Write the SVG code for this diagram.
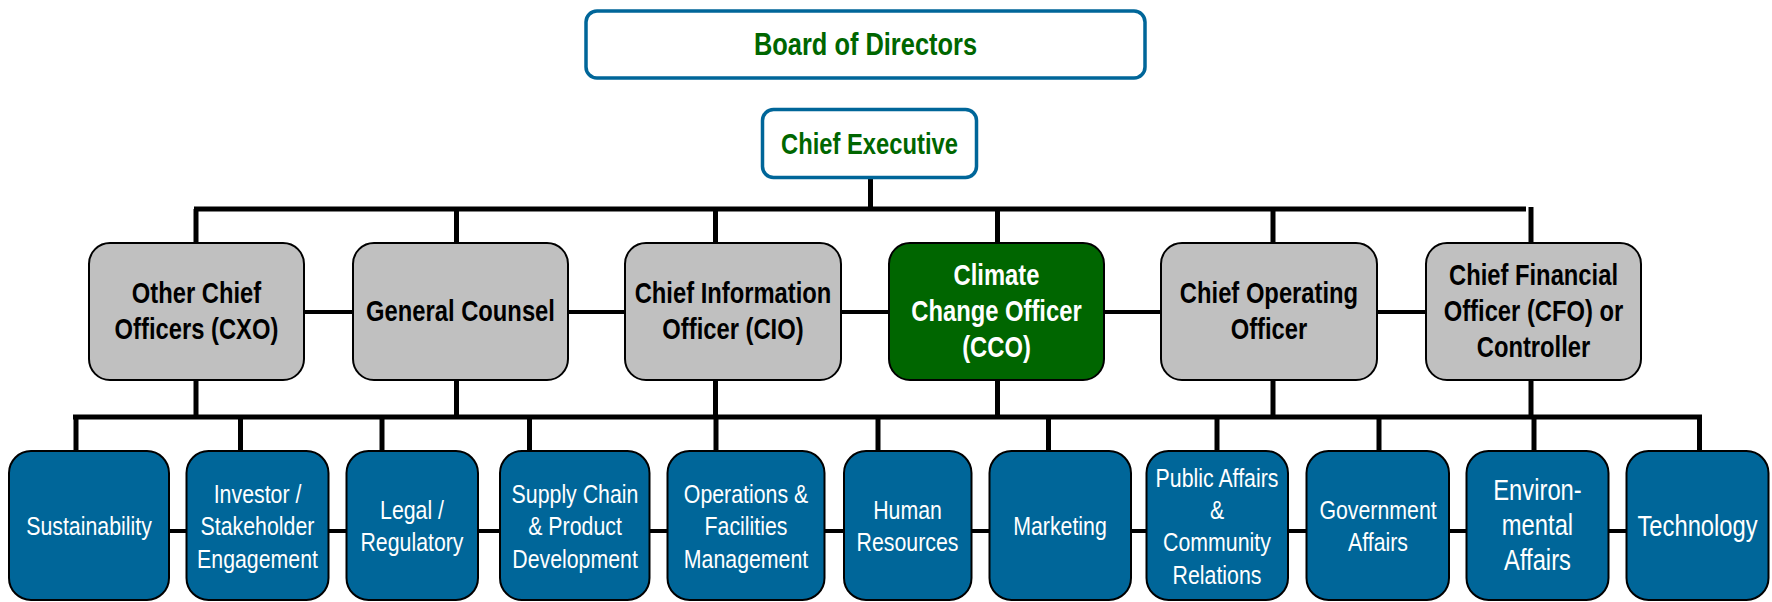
<svg xmlns="http://www.w3.org/2000/svg" width="1772" height="602" viewBox="0 0 1772 602">
  <style>
    .top { fill: #ffffff; stroke: #006699; stroke-width: 3.5; }
    .exec { fill: #C0C0C0; stroke: #000000; stroke-width: 2; }
    .cco { fill: #006600; stroke: #000000; stroke-width: 2; }
    .dept { fill: #006699; stroke: #000000; stroke-width: 2; }
    .bar { stroke: #000000; stroke-width: 5; fill: none; }
    .link { stroke: #000000; stroke-width: 4; fill: none; }
    /* narrow lettering: Liberation Sans squeezed about each label's own centre */
    text { font-family: "Liberation Sans", Arial, sans-serif; text-anchor: middle;
           transform-box: fill-box; transform-origin: center; transform: scaleX(0.82); }
    .t-top { fill: #006600; font-weight: bold; }
    .t-exec { fill: #000000; font-weight: bold; font-size: 29px; }
    .t-cco { fill: #ffffff; font-weight: bold; font-size: 29px; }
    .t-dept { fill: #ffffff; font-size: 26px; }
    .t-dept-lg { fill: #ffffff; font-size: 29px; }
  </style>

  <!-- connectors -->
  <g id="connectors">
    <!-- chief executive down to officer bar -->
    <line class="bar" x1="870.5" y1="179" x2="870.5" y2="209"/>
    <line class="bar" x1="194" y1="209" x2="1526" y2="209"/>
    <!-- drops to officers -->
    <line class="bar" x1="196" y1="209" x2="196" y2="243"/>
    <line class="bar" x1="456.5" y1="209" x2="456.5" y2="243"/>
    <line class="bar" x1="715.5" y1="209" x2="715.5" y2="243"/>
    <line class="bar" x1="997.5" y1="209" x2="997.5" y2="243"/>
    <line class="bar" x1="1273" y1="209" x2="1273" y2="243"/>
    <line class="bar" x1="1531" y1="207" x2="1531" y2="243"/>
    <!-- side links between officers -->
    <line class="link" x1="200" y1="312" x2="1530" y2="312"/>
    <!-- officers down to department bar -->
    <line class="bar" x1="196" y1="380" x2="196" y2="417"/>
    <line class="bar" x1="456.5" y1="380" x2="456.5" y2="417"/>
    <line class="bar" x1="715.5" y1="380" x2="715.5" y2="417"/>
    <line class="bar" x1="997.5" y1="380" x2="997.5" y2="417"/>
    <line class="bar" x1="1273" y1="380" x2="1273" y2="417"/>
    <line class="bar" x1="1531" y1="380" x2="1531" y2="417"/>
    <line class="bar" x1="73" y1="417" x2="1702" y2="417"/>
    <!-- drops to departments -->
    <line class="bar" x1="76" y1="417" x2="76" y2="452"/>
    <line class="bar" x1="240.5" y1="417" x2="240.5" y2="452"/>
    <line class="bar" x1="382" y1="417" x2="382" y2="452"/>
    <line class="bar" x1="529.5" y1="417" x2="529.5" y2="452"/>
    <line class="bar" x1="716" y1="417" x2="716" y2="452"/>
    <line class="bar" x1="878" y1="417" x2="878" y2="452"/>
    <line class="bar" x1="1048.5" y1="417" x2="1048.5" y2="452"/>
    <line class="bar" x1="1217" y1="417" x2="1217" y2="452"/>
    <line class="bar" x1="1379" y1="417" x2="1379" y2="452"/>
    <line class="bar" x1="1534" y1="417" x2="1534" y2="452"/>
    <line class="bar" x1="1699.5" y1="417" x2="1699.5" y2="452"/>
    <!-- side links between departments -->
    <line class="link" x1="80" y1="531" x2="1700" y2="531"/>
  </g>

  <!-- governance -->
  <g id="board">
    <rect class="top" x="586" y="11" width="559" height="67" rx="11"/>
    <text class="t-top" x="865.5" y="55" font-size="31">Board of Directors</text>
  </g>
  <g id="chief-executive">
    <rect class="top" x="762.5" y="109.5" width="214" height="68" rx="11"/>
    <text class="t-top" x="869.5" y="154" font-size="29">Chief Executive</text>
  </g>

  <!-- officers -->
  <g id="cxo">
    <rect class="exec" x="89" y="243" width="215" height="137" rx="21"/>
    <text class="t-exec" x="196.5" y="303.5">Other Chief</text>
    <text class="t-exec" x="196.5" y="339.5">Officers (CXO)</text>
  </g>
  <g id="general-counsel">
    <rect class="exec" x="353" y="243" width="215" height="137" rx="21"/>
    <text class="t-exec" x="460.5" y="321">General Counsel</text>
  </g>
  <g id="cio">
    <rect class="exec" x="625" y="243" width="216" height="137" rx="21"/>
    <text class="t-exec" x="733" y="303.5">Chief Information</text>
    <text class="t-exec" x="733" y="339.5">Officer (CIO)</text>
  </g>
  <g id="cco">
    <rect class="cco" x="889" y="243" width="215" height="137" rx="21"/>
    <text class="t-cco" x="996.5" y="285.5">Climate</text>
    <text class="t-cco" x="996.5" y="321.5">Change Officer</text>
    <text class="t-cco" x="996.5" y="357.5">(CCO)</text>
  </g>
  <g id="coo">
    <rect class="exec" x="1161" y="243" width="216" height="137" rx="21"/>
    <text class="t-exec" x="1269" y="303.5">Chief Operating</text>
    <text class="t-exec" x="1269" y="339.5">Officer</text>
  </g>
  <g id="cfo">
    <rect class="exec" x="1426" y="243" width="215" height="137" rx="21"/>
    <text class="t-exec" x="1533.5" y="285.5">Chief Financial</text>
    <text class="t-exec" x="1533.5" y="321.5">Officer (CFO) or</text>
    <text class="t-exec" x="1533.5" y="357.5">Controller</text>
  </g>

  <!-- departments -->
  <g id="sustainability">
    <rect class="dept" x="9" y="451" width="160" height="149" rx="22"/>
    <text class="t-dept" x="89" y="535.5">Sustainability</text>
  </g>
  <g id="investor">
    <rect class="dept" x="186.5" y="451" width="142" height="149" rx="22"/>
    <text class="t-dept" x="257.5" y="503">Investor /</text>
    <text class="t-dept" x="257.5" y="535.5">Stakeholder</text>
    <text class="t-dept" x="257.5" y="568">Engagement</text>
  </g>
  <g id="legal">
    <rect class="dept" x="346.5" y="451" width="131.5" height="149" rx="22"/>
    <text class="t-dept" x="412" y="519">Legal /</text>
    <text class="t-dept" x="412" y="551.5">Regulatory</text>
  </g>
  <g id="supply-chain">
    <rect class="dept" x="500" y="451" width="149.5" height="149" rx="22"/>
    <text class="t-dept" x="575" y="503">Supply Chain</text>
    <text class="t-dept" x="575" y="535.5">&amp; Product</text>
    <text class="t-dept" x="575" y="568">Development</text>
  </g>
  <g id="operations">
    <rect class="dept" x="667.5" y="451" width="157" height="149" rx="22"/>
    <text class="t-dept" x="746" y="503">Operations &amp;</text>
    <text class="t-dept" x="746" y="535.5">Facilities</text>
    <text class="t-dept" x="746" y="568">Management</text>
  </g>
  <g id="human-resources">
    <rect class="dept" x="844" y="451" width="127.5" height="149" rx="22"/>
    <text class="t-dept" x="907.5" y="519">Human</text>
    <text class="t-dept" x="907.5" y="551.5">Resources</text>
  </g>
  <g id="marketing">
    <rect class="dept" x="989.5" y="451" width="141.5" height="149" rx="22"/>
    <text class="t-dept" x="1060" y="535.5">Marketing</text>
  </g>
  <g id="public-affairs">
    <rect class="dept" x="1146.5" y="451" width="141.5" height="149" rx="22"/>
    <text class="t-dept" x="1217" y="487">Public Affairs</text>
    <text class="t-dept" x="1217" y="519">&amp;</text>
    <text class="t-dept" x="1217" y="551.5">Community</text>
    <text class="t-dept" x="1217" y="584">Relations</text>
  </g>
  <g id="government-affairs">
    <rect class="dept" x="1306.5" y="451" width="142.5" height="149" rx="22"/>
    <text class="t-dept" x="1378" y="519">Government</text>
    <text class="t-dept" x="1378" y="551.5">Affairs</text>
  </g>
  <g id="environmental-affairs">
    <rect class="dept" x="1466.5" y="451" width="142" height="149" rx="22"/>
    <text class="t-dept-lg" x="1537.5" y="500.5">Environ-</text>
    <text class="t-dept-lg" x="1537.5" y="535.5">mental</text>
    <text class="t-dept-lg" x="1537.5" y="570.5">Affairs</text>
  </g>
  <g id="technology">
    <rect class="dept" x="1626.5" y="451" width="142" height="149" rx="22"/>
    <text class="t-dept-lg" x="1697.5" y="536.5">Technology</text>
  </g>
</svg>
